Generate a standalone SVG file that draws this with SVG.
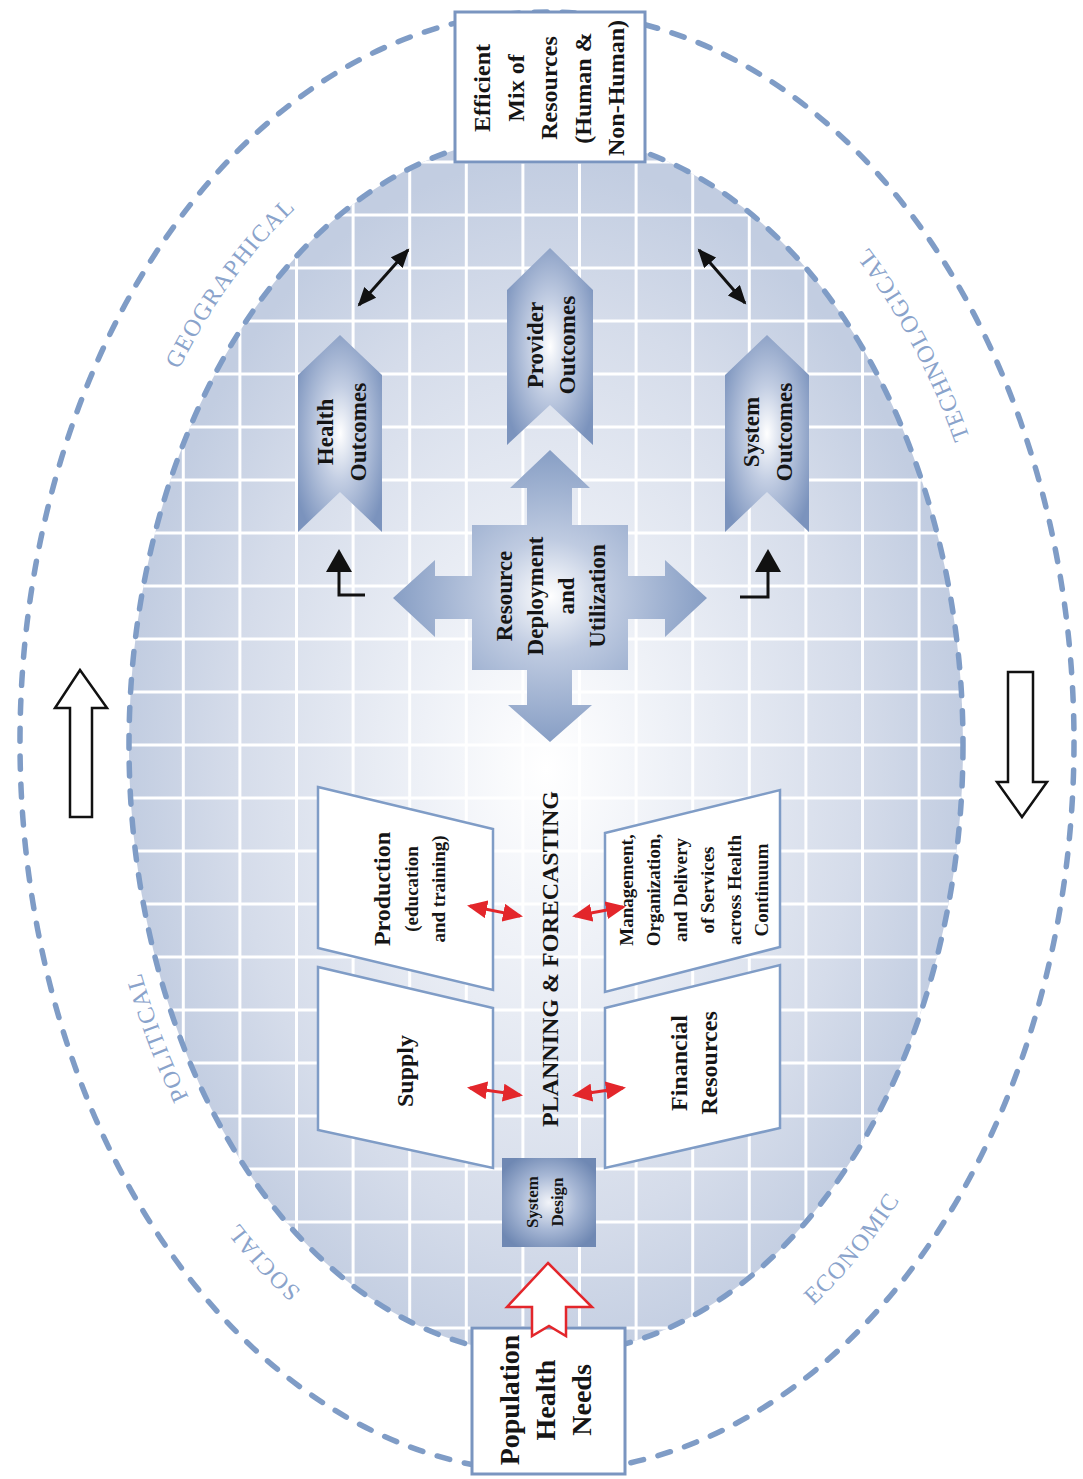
<svg xmlns="http://www.w3.org/2000/svg" width="1083" height="1479" viewBox="0 0 1083 1479">
<style>
.dash{fill:none;stroke:#7f9cc6;stroke-width:5.5;stroke-linecap:round;stroke-dasharray:13 15}
.grid line{stroke:#ffffff;stroke-width:3}
.box{fill:#ffffff;stroke:#7a95c0;stroke-width:3}
.para{fill:#ffffff;stroke:#7f9cc6;stroke-width:2.5}
.t{font-family:"Liberation Serif","Times New Roman",serif;font-weight:bold;fill:#151515;text-anchor:middle}
.lab{font-family:"Liberation Serif","Times New Roman",serif;font-size:24px;fill:#8aa3cb;letter-spacing:1.2px}
.blk{stroke:#111111;stroke-width:3;fill:none}
.red{stroke:#e3262b;stroke-width:3;fill:none}
.hollow{fill:#ffffff;stroke:#111111;stroke-width:2.5;stroke-linejoin:miter}
</style>
<defs>
<radialGradient id="gIn" cx="0.5" cy="0.52" r="0.5">
<stop offset="0" stop-color="#ffffff"/>
<stop offset="0.3" stop-color="#eef1f7"/>
<stop offset="0.75" stop-color="#d5dcea"/>
<stop offset="1" stop-color="#c2cde1"/>
</radialGradient>
<radialGradient id="gChev" cx="0.5" cy="0.5" r="0.6">
<stop offset="0" stop-color="#ffffff"/>
<stop offset="0.4" stop-color="#c3cee3"/>
<stop offset="1" stop-color="#7b93bd"/>
</radialGradient>
<radialGradient id="gCross" cx="0.5" cy="0.5" r="0.55">
<stop offset="0" stop-color="#ffffff"/>
<stop offset="0.35" stop-color="#bfcbe1"/>
<stop offset="1" stop-color="#7e97c0"/>
</radialGradient>
<radialGradient id="gSys" cx="0.5" cy="0.5" r="0.6">
<stop offset="0" stop-color="#f2f4f9"/>
<stop offset="0.5" stop-color="#a9b9d6"/>
<stop offset="1" stop-color="#6f88b3"/>
</radialGradient>
<clipPath id="clipIn"><ellipse cx="546" cy="745" rx="417" ry="610"/></clipPath>
<marker id="mBlk" markerUnits="userSpaceOnUse" markerWidth="20" markerHeight="16" refX="17" refY="8" orient="auto-start-reverse"><path d="M0,0 L19,8 L0,16 z" fill="#111111"/></marker>
<marker id="mRed" markerUnits="userSpaceOnUse" markerWidth="20" markerHeight="18" refX="17" refY="9" orient="auto-start-reverse"><path d="M0,0 L20,9 L0,18 z" fill="#e3262b"/></marker>
<marker id="mL" markerUnits="userSpaceOnUse" markerWidth="24" markerHeight="26" refX="0" refY="13" orient="auto"><path d="M0,0 L23,13 L0,26 z" fill="#111111"/></marker>
<path id="pGeo" d="M110.4,575.8 A452,642 0 0 1 430.0,121.9"/>
<path id="pTech" d="M1017.4,660 A474,673 0 0 0 732.2,122.5"/>
<path id="pPol" d="M316.7,1269.4 A437,620.5 0 0 1 110.2,722.5"/>
<path id="pSoc" d="M485.6,1386.2 A458,650 0 0 1 123.3,988.7"/>
<path id="pEco" d="M634.1,1409.7 A478,679 0 0 0 997.6,968.6"/>
</defs>

<rect x="0" y="0" width="1083" height="1479" fill="#ffffff"/>

<g id="context">
<ellipse class="dash" cx="547" cy="742" rx="527" ry="730"/>
<ellipse cx="546" cy="745" rx="417" ry="610" fill="url(#gIn)"/>
<g class="grid" clip-path="url(#clipIn)">
<line x1="126.7" y1="100" x2="126.7" y2="1400"/>
<line x1="183.3" y1="100" x2="183.3" y2="1400"/>
<line x1="239.9" y1="100" x2="239.9" y2="1400"/>
<line x1="296.5" y1="100" x2="296.5" y2="1400"/>
<line x1="353.1" y1="100" x2="353.1" y2="1400"/>
<line x1="409.7" y1="100" x2="409.7" y2="1400"/>
<line x1="466.3" y1="100" x2="466.3" y2="1400"/>
<line x1="522.9" y1="100" x2="522.9" y2="1400"/>
<line x1="579.5" y1="100" x2="579.5" y2="1400"/>
<line x1="636.1" y1="100" x2="636.1" y2="1400"/>
<line x1="692.7" y1="100" x2="692.7" y2="1400"/>
<line x1="749.3" y1="100" x2="749.3" y2="1400"/>
<line x1="805.9" y1="100" x2="805.9" y2="1400"/>
<line x1="862.5" y1="100" x2="862.5" y2="1400"/>
<line x1="919.1" y1="100" x2="919.1" y2="1400"/>
<line x1="975.7" y1="100" x2="975.7" y2="1400"/>
<line x1="100" y1="109" x2="1000" y2="109"/>
<line x1="100" y1="162" x2="1000" y2="162"/>
<line x1="100" y1="215" x2="1000" y2="215"/>
<line x1="100" y1="268" x2="1000" y2="268"/>
<line x1="100" y1="321" x2="1000" y2="321"/>
<line x1="100" y1="374" x2="1000" y2="374"/>
<line x1="100" y1="427" x2="1000" y2="427"/>
<line x1="100" y1="480" x2="1000" y2="480"/>
<line x1="100" y1="533" x2="1000" y2="533"/>
<line x1="100" y1="586" x2="1000" y2="586"/>
<line x1="100" y1="639" x2="1000" y2="639"/>
<line x1="100" y1="692" x2="1000" y2="692"/>
<line x1="100" y1="745" x2="1000" y2="745"/>
<line x1="100" y1="798" x2="1000" y2="798"/>
<line x1="100" y1="851" x2="1000" y2="851"/>
<line x1="100" y1="904" x2="1000" y2="904"/>
<line x1="100" y1="957" x2="1000" y2="957"/>
<line x1="100" y1="1010" x2="1000" y2="1010"/>
<line x1="100" y1="1063" x2="1000" y2="1063"/>
<line x1="100" y1="1116" x2="1000" y2="1116"/>
<line x1="100" y1="1169" x2="1000" y2="1169"/>
<line x1="100" y1="1222" x2="1000" y2="1222"/>
<line x1="100" y1="1275" x2="1000" y2="1275"/>
<line x1="100" y1="1328" x2="1000" y2="1328"/>
<line x1="100" y1="1381" x2="1000" y2="1381"/>
</g>
<ellipse class="dash" cx="546" cy="745" rx="417" ry="610"/>
<text class="lab"><textPath href="#pGeo" startOffset="55%" text-anchor="middle">GEOGRAPHICAL</textPath></text>
<text class="lab"><textPath href="#pTech" startOffset="53.5%" text-anchor="middle">TECHNOLOGICAL</textPath></text>
<text class="lab"><textPath href="#pPol" startOffset="47%" text-anchor="middle">POLITICAL</textPath></text>
<text class="lab"><textPath href="#pSoc" startOffset="45.5%" text-anchor="middle">SOCIAL</textPath></text>
<text class="lab"><textPath href="#pEco" startOffset="46.5%" text-anchor="middle">ECONOMIC</textPath></text>
</g>

<g id="efficient-mix">
<rect class="box" x="455" y="12" width="190" height="150"/>
<text class="t" font-size="24" transform="translate(550,88) rotate(-90)"><tspan x="0" y="-60">Efficient</tspan><tspan x="0" y="-26.5">Mix of</tspan><tspan x="0" y="7">Resources</tspan><tspan x="0" y="40.5">(Human &amp;</tspan><tspan x="0" y="74">Non-Human)</tspan></text>
</g>

<g id="health-outcomes">
<polygon points="340,335 382,375 382,532 340,492 298,532 298,375" fill="url(#gChev)"/>
<text class="t" font-size="23" transform="translate(340,432) rotate(-90)"><tspan x="0" y="-7">Health</tspan><tspan x="0" y="26">Outcomes</tspan></text>
</g>

<g id="provider-outcomes">
<polygon points="550,248 593,290 593,445 550,405 507,445 507,290" fill="url(#gChev)"/>
<text class="t" font-size="23" transform="translate(550,345) rotate(-90)"><tspan x="0" y="-7">Provider</tspan><tspan x="0" y="25">Outcomes</tspan></text>
</g>

<g id="system-outcomes">
<polygon points="767,335 809,375 809,532 767,492 725,532 725,375" fill="url(#gChev)"/>
<text class="t" font-size="23" transform="translate(767,432) rotate(-90)"><tspan x="0" y="-8">System</tspan><tspan x="0" y="25">Outcomes</tspan></text>
</g>

<g id="resource-deployment">
<polygon points="550,450 590,488 572,488 572,525 628,525 628,576 665,576 665,560 707,598 665,637 665,619 628,619 628,670 572,670 572,705 592,705 550,742 508,705 527,705 527,670 472,670 472,619 435,619 435,637 393,598 435,560 435,576 472,576 472,525 527,525 527,488 510,488" fill="url(#gCross)"/>
<text class="t" font-size="23" transform="translate(550,596) rotate(-90)"><tspan x="0" y="-38">Resource</tspan><tspan x="0" y="-7">Deployment</tspan><tspan x="0" y="24">and</tspan><tspan x="0" y="55">Utilization</tspan></text>
</g>

<g id="production">
<polygon class="para" points="318,787 493,829 493,990 318,948"/>
<text class="t" transform="translate(405,889) rotate(-90)"><tspan x="0" y="-15" font-size="24">Production</tspan><tspan x="0" y="13" font-size="19">(education</tspan><tspan x="0" y="40" font-size="19">and training)</tspan></text>
</g>

<g id="supply">
<polygon class="para" points="318,967 493,1008 493,1168 318,1130"/>
<text class="t" font-size="24" transform="translate(405,1071) rotate(-90)"><tspan x="0" y="8">Supply</tspan></text>
</g>

<g id="management">
<polygon class="para" points="605,833 780,790 780,947 605,992"/>
<text class="t" font-size="19" transform="translate(692,890) rotate(-90)"><tspan x="0" y="-59">Management,</tspan><tspan x="0" y="-32">Organization,</tspan><tspan x="0" y="-5">and Delivery</tspan><tspan x="0" y="22">of Services</tspan><tspan x="0" y="49">across Health</tspan><tspan x="0" y="76">Continuum</tspan></text>
</g>

<g id="financial-resources">
<polygon class="para" points="605,1008 780,965 780,1128 605,1168"/>
<text class="t" font-size="24" transform="translate(692,1063) rotate(-90)"><tspan x="0" y="-5">Financial</tspan><tspan x="0" y="25">Resources</tspan></text>
</g>

<g id="planning-forecasting">
<text class="t" font-size="24" transform="translate(550,959) rotate(-90)"><tspan x="0" y="8">PLANNING &amp; FORECASTING</tspan></text>
</g>

<g id="system-design">
<rect x="502" y="1158" width="94" height="89" fill="url(#gSys)"/>
<text class="t" font-size="17" fill="#25304a" transform="translate(549,1202) rotate(-90)"><tspan x="0" y="-11">System</tspan><tspan x="0" y="14">Design</tspan></text>
</g>

<g id="population-health-needs">
<rect class="box" x="472" y="1328" width="153" height="146"/>
<text class="t" font-size="28" transform="translate(548,1400) rotate(-90)"><tspan x="0" y="-29">Population</tspan><tspan x="0" y="7">Health</tspan><tspan x="0" y="43">Needs</tspan></text>
</g>

<g id="connectors">
<line class="blk" x1="359" y1="305" x2="408" y2="250" marker-start="url(#mBlk)" marker-end="url(#mBlk)"/>
<line class="blk" x1="699" y1="250" x2="745" y2="303" marker-start="url(#mBlk)" marker-end="url(#mBlk)"/>
<path class="blk" d="M365,595 L339,595 L339,572" marker-end="url(#mL)"/>
<path class="blk" d="M740,597 L768,597 L768,572" marker-end="url(#mL)"/>
<line class="red" x1="470" y1="906" x2="520" y2="916" marker-start="url(#mRed)" marker-end="url(#mRed)"/>
<line class="red" x1="575" y1="916" x2="623" y2="907" marker-start="url(#mRed)" marker-end="url(#mRed)"/>
<line class="red" x1="470" y1="1088" x2="520" y2="1095" marker-start="url(#mRed)" marker-end="url(#mRed)"/>
<line class="red" x1="575" y1="1095" x2="623" y2="1088" marker-start="url(#mRed)" marker-end="url(#mRed)"/>
<polygon points="548,1263 592,1307 566,1307 566,1336 549,1326 532,1336 532,1307 507,1307" fill="#ffffff" stroke="#e3262b" stroke-width="2.5"/>
<polygon class="hollow" points="80,670 107,708 92,708 92,817 70,817 70,708 55,708"/>
<polygon class="hollow" points="1022,817 1047,782 1033,782 1033,672 1008,672 1008,782 997,782"/>
</g>
</svg>
